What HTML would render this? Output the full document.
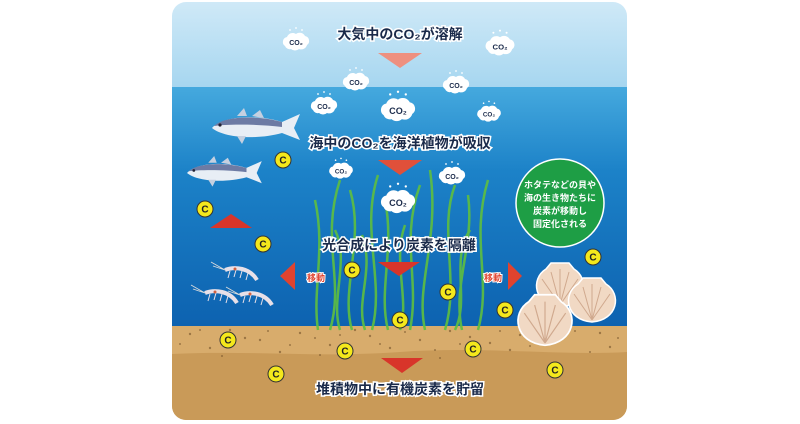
<!DOCTYPE html>
<html><head><meta charset="utf-8"><style>
html,body{margin:0;padding:0;background:#fff;width:800px;height:424px;overflow:hidden}
svg{display:block}
.lbl{font-family:"Liberation Sans","Noto Sans CJK JP",sans-serif;font-weight:bold;fill:#1a2a4a;stroke:#fff;stroke-width:3;paint-order:stroke;text-anchor:middle}
.co2{font-family:"Liberation Sans",sans-serif;font-weight:bold;fill:#1a2a4a;text-anchor:middle}
.c{font-family:"Liberation Sans",sans-serif;font-weight:bold;fill:#222;text-anchor:middle;font-size:10px}
.g{font-family:"Liberation Sans","Noto Sans CJK JP",sans-serif;font-weight:bold;fill:#fff;text-anchor:middle;font-size:9px}
</style></head><body>
<svg width="800" height="424" viewBox="0 0 800 424" xmlns="http://www.w3.org/2000/svg">
<defs>
<linearGradient id="sky" x1="0" y1="0" x2="0" y2="1"><stop offset="0" stop-color="#cfe9f7"/><stop offset="1" stop-color="#a6d6f0"/></linearGradient>
<linearGradient id="sea" x1="0" y1="0" x2="0" y2="1"><stop offset="0" stop-color="#45a9de"/><stop offset="0.35" stop-color="#1c82c8"/><stop offset="1" stop-color="#0d62b0"/></linearGradient>
<clipPath id="pc"><rect x="172" y="2" width="455" height="418" rx="14"/></clipPath>
<g id="cl"><path d="M-11,4 a5,5 0 0 1 2,-9 a6,6 0 0 1 9,-3 a6,6 0 0 1 9,2 a5,5 0 0 1 2,9 a6,6 0 0 1 -8,4 a6,6 0 0 1 -8,0 a5,5 0 0 1 -6,-3z" fill="#fff"/><circle cx="-6" cy="-12" r="0.9" fill="#fff"/><circle cx="0" cy="-14" r="0.9" fill="#fff"/><circle cx="6" cy="-12" r="0.9" fill="#fff"/><text class="co2" y="3" font-size="7">CO₂</text></g>
<g id="cc"><circle r="8" fill="#f4e81c" stroke="#333" stroke-width="1"/><text class="c" y="3.5">C</text></g>
<g id="fish"><path d="M0,0 C10,-12 45,-14 70,-6 L88,-14 L82,0 L88,12 L70,5 C45,12 12,10 0,0z" fill="#e8eef5"/><path d="M2,-2 C12,-12 45,-13 70,-6 L70,-1 C45,-4 15,-4 2,-2z" fill="#6d7ba4"/><path d="M25,-12 L32,-20 L35,-12z M40,-12 L48,-18 L52,-10z M25,8 L30,16 L34,8z" fill="#c5d0e0"/><circle cx="8" cy="-3" r="1.6" fill="#223"/></g>
<g id="sc"><path d="M0,22 C-26,20 -30,-6 -14,-16 L-9,-22 L9,-22 L14,-16 C30,-6 26,20 0,22z" fill="#f1d9c4" stroke="#fff" stroke-width="1.5"/><path d="M0,20 L-18,-6 M0,20 L-9,-13 M0,20 L0,-16 M0,20 L9,-13 M0,20 L18,-6" stroke="#d0a98e" stroke-width="1"/></g>
<g id="sh"><path d="M0,0 C10,-4 25,-2 32,10" stroke="#e8e0e8" stroke-width="4" fill="none"/><path d="M5,1 l-2,7 M11,0 l-2,7 M17,1 l-2,7 M23,3 l-2,7" stroke="#e8e0e8" stroke-width="1"/><path d="M0,0 l-14,-8 M0,0 l-12,-4" stroke="#ddd" stroke-width="0.8"/><circle cx="10" cy="-1" r="1.5" fill="#d06040"/></g>
</defs>
<g clip-path="url(#pc)">
<rect x="172" y="2" width="455" height="86" fill="url(#sky)"/>
<rect x="172" y="87" width="455" height="240" fill="url(#sea)"/>
<rect x="172" y="326" width="455" height="100" fill="#d8ac6c"/>
<path d="M172,354 C250,350 320,358 400,352 C480,346 560,356 627,352 L627,424 L172,424z" fill="#c99a58"/>
<g fill="#6a4a25" opacity="0.55">
<circle cx="190" cy="334" r="1.2"/><circle cx="230" cy="330" r="1.2"/><circle cx="260" cy="340" r="1.2"/><circle cx="300" cy="333" r="1.2"/><circle cx="330" cy="345" r="1.2"/><circle cx="370" cy="336" r="1.2"/><circle cx="420" cy="340" r="1.2"/><circle cx="450" cy="331" r="1.2"/><circle cx="490" cy="343" r="1.2"/><circle cx="520" cy="335" r="1.2"/><circle cx="560" cy="340" r="1.2"/><circle cx="600" cy="333" r="1.2"/><circle cx="210" cy="348" r="1.2"/><circle cx="280" cy="352" r="1.2"/><circle cx="390" cy="348" r="1.2"/><circle cx="510" cy="350" r="1.2"/><circle cx="610" cy="347" r="1.2"/><circle cx="245" cy="338" r="1.2"/><circle cx="355" cy="330" r="1.2"/><circle cx="470" cy="337" r="1.2"/>
<circle cx="180" cy="344" r="1"/><circle cx="200" cy="330" r="1"/><circle cx="222" cy="356" r="1"/><circle cx="268" cy="331" r="1"/><circle cx="290" cy="345" r="1"/><circle cx="315" cy="338" r="1"/><circle cx="340" cy="335" r="1"/><circle cx="380" cy="344" r="1"/><circle cx="405" cy="332" r="1"/><circle cx="435" cy="350" r="1"/><circle cx="460" cy="344" r="1"/><circle cx="500" cy="331" r="1"/><circle cx="530" cy="346" r="1"/><circle cx="575" cy="331" r="1"/><circle cx="590" cy="352" r="1"/><circle cx="618" cy="338" r="1"/><circle cx="320" cy="355" r="1"/><circle cx="440" cy="358" r="1"/>
</g>
</g>
<g stroke="#5fbf3f" stroke-width="2.5" fill="none" opacity="0.9">
<path d="M318,330 C312,290 326,250 315,200"/><path d="M330,330 C345,280 320,240 340,180"/><path d="M352,330 C340,290 365,240 350,190"/><path d="M372,330 C385,280 360,230 378,175"/><path d="M388,330 C378,290 395,250 385,200"/><path d="M410,330 C420,280 400,240 420,185"/><path d="M425,330 C415,285 440,240 430,170"/><path d="M445,330 C460,280 438,230 455,185"/><path d="M462,330 C452,285 475,245 468,195"/><path d="M478,330 C492,280 470,240 488,180"/><path d="M340,330 C330,300 350,260 335,230"/><path d="M455,330 C470,300 450,260 470,230"/><path d="M365,330 C355,300 375,270 362,235"/><path d="M400,330 C410,300 392,260 405,225"/>
</g>
<use href="#fish" transform="translate(212,128)"/>
<use href="#fish" transform="translate(187,173) scale(0.85)"/>
<use href="#sh" transform="translate(225,270)"/>
<use href="#sh" transform="translate(205,293)"/>
<use href="#sh" transform="translate(240,295)"/>
<use href="#sc" transform="translate(560,285)"/>
<use href="#sc" transform="translate(592,300)"/>
<use href="#sc" transform="translate(545,320) scale(1.15)"/>
<circle cx="560" cy="203" r="44" fill="#1e9e45" stroke="#fff" stroke-width="1.5"/>
<text class="g" x="560" y="188">ホタテなどの貝や</text>
<text class="g" x="560" y="201">海の生き物たちに</text>
<text class="g" x="560" y="214">炭素が移動し</text>
<text class="g" x="560" y="227">固定化される</text>
<polygon points="378,53 422,53 400,68" fill="#ee9080"/>
<polygon points="378,160 422,160 400,175" fill="#e0503a"/>
<polygon points="378,262 420,262 399,276" fill="#d8352a"/>
<polygon points="381,358 423,358 402,373" fill="#d8352a"/>
<polygon points="210,228 252,228 231,214" fill="#d8352a"/>
<polygon points="295,262 295,290 280,276" fill="#e0432f"/>
<polygon points="508,262 508,290 522,276" fill="#e0432f"/>
<text x="307" y="281" font-size="9" font-weight="bold" fill="#e0432f" stroke="#fff" stroke-width="2" paint-order="stroke" font-family="Liberation Sans,Noto Sans CJK JP,sans-serif">移動</text>
<text x="484" y="281" font-size="9" font-weight="bold" fill="#e0432f" stroke="#fff" stroke-width="2" paint-order="stroke" font-family="Liberation Sans,Noto Sans CJK JP,sans-serif">移動</text>
<text class="lbl" x="400" y="39" font-size="14">大気中のCO₂が溶解</text>
<text class="lbl" x="400" y="148" font-size="14">海中のCO₂を海洋植物が吸収</text>
<text class="lbl" x="399" y="250" font-size="14">光合成により炭素を隔離</text>
<text class="lbl" x="400" y="394" font-size="14">堆積物中に有機炭素を貯留</text>
<use href="#cl" transform="translate(296,42)"/>
<use href="#cl" transform="translate(500,46) scale(1.1)"/>
<use href="#cl" transform="translate(356,82)"/>
<use href="#cl" transform="translate(456,85)"/>
<use href="#cl" transform="translate(324,106)"/>
<use href="#cl" transform="translate(398,110) scale(1.3)"/>
<use href="#cl" transform="translate(489,114) scale(0.9)"/>
<use href="#cl" transform="translate(341,171) scale(0.9)"/>
<use href="#cl" transform="translate(452,176)"/>
<use href="#cl" transform="translate(398,202) scale(1.3)"/>
<use href="#cc" transform="translate(283,160)"/>
<use href="#cc" transform="translate(205,209)"/>
<use href="#cc" transform="translate(263,244)"/>
<use href="#cc" transform="translate(352,270)"/>
<use href="#cc" transform="translate(448,292)"/>
<use href="#cc" transform="translate(400,320)"/>
<use href="#cc" transform="translate(593,257)"/>
<use href="#cc" transform="translate(505,310)"/>
<use href="#cc" transform="translate(228,340)"/>
<use href="#cc" transform="translate(345,351)"/>
<use href="#cc" transform="translate(473,349)"/>
<use href="#cc" transform="translate(555,370)"/>
<use href="#cc" transform="translate(276,374)"/>
</svg>
</body></html>
